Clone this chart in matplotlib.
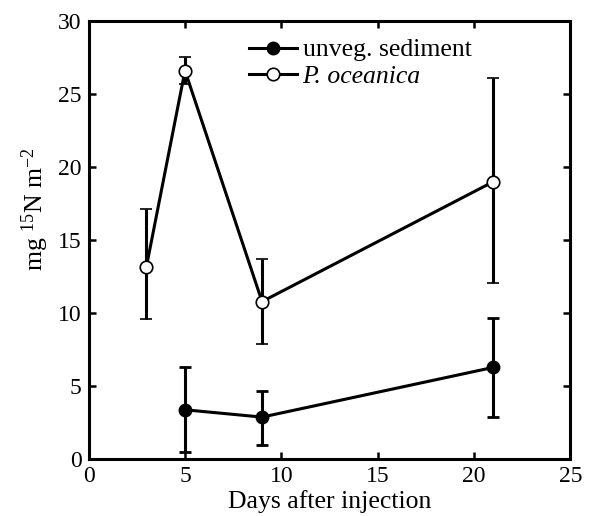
import matplotlib.pyplot as plt
import numpy as np

plt.rcParams['font.family'] = ['Liberation Serif', 'DejaVu Serif']
plt.rcParams['mathtext.fontset'] = 'custom'
plt.rcParams['mathtext.rm'] = 'Liberation Serif'
plt.rcParams['mathtext.it'] = 'Liberation Serif:italic'

# P. oceanica
days_po = [3, 5, 9, 21]
po_mean = [13.2, 26.6, 10.8, 19.0]
po_low = [9.6, 25.7, 7.9, 12.1]
po_high = [17.1, 27.5, 13.7, 26.1]

# unvegetated sediment
days_sed = [5, 9, 21]
sed_mean = [3.4, 2.9, 6.3]
sed_low = [0.5, 1.0, 2.9]
sed_high = [6.3, 4.7, 9.7]

fig = plt.figure(figsize=(5.91, 5.16), dpi=100)
ax = fig.add_axes([0.150, 0.1095, 0.815, 0.850])

po_err = [np.subtract(po_mean, po_low), np.subtract(po_high, po_mean)]
sed_err = [np.subtract(sed_mean, sed_low), np.subtract(sed_high, sed_mean)]

ax.errorbar(days_sed, sed_mean, yerr=sed_err, color='black', lw=2.2,
            marker='o', ms=9, mfc='black', mec='black', capsize=4.5,
            elinewidth=2.2, capthick=2.0, label='unveg. sediment', zorder=3)
ax.errorbar(days_po, po_mean, yerr=po_err, color='black', lw=2.2,
            marker='o', ms=9, mfc='white', mec='black', mew=1.2, capsize=4.5,
            elinewidth=2.2, capthick=2.0, label='P. oceanica', zorder=3)

ax.set_xlim(0, 25)
ax.set_ylim(0, 30)
ax.set_xticks(range(0, 26, 5))
ax.set_yticks(range(0, 31, 5))
ax.tick_params(direction='in', top=True, right=True, length=5, width=1.8,
               labelsize=17, pad=5)
for s in ax.spines.values():
    s.set_linewidth(2.2)

ax.set_xlabel('Days after injection', fontsize=18.5, labelpad=2)
ax.set_ylabel(r'mg $^{15}$N m$^{-2}$', fontsize=18.5)
ax.yaxis.set_label_coords(-0.078, 0.57)

handles, labels = ax.get_legend_handles_labels()
handles = [h[0] for h in handles]
leg = ax.legend(handles, labels, loc='upper left', bbox_to_anchor=(0.30, 0.995),
                frameon=False, fontsize=18.5, handlelength=1.9, handletextpad=0.2,
                labelspacing=0.12, borderaxespad=0.2)
leg.get_texts()[1].set_fontstyle('italic')

fig.savefig('out.png', dpi=100)
